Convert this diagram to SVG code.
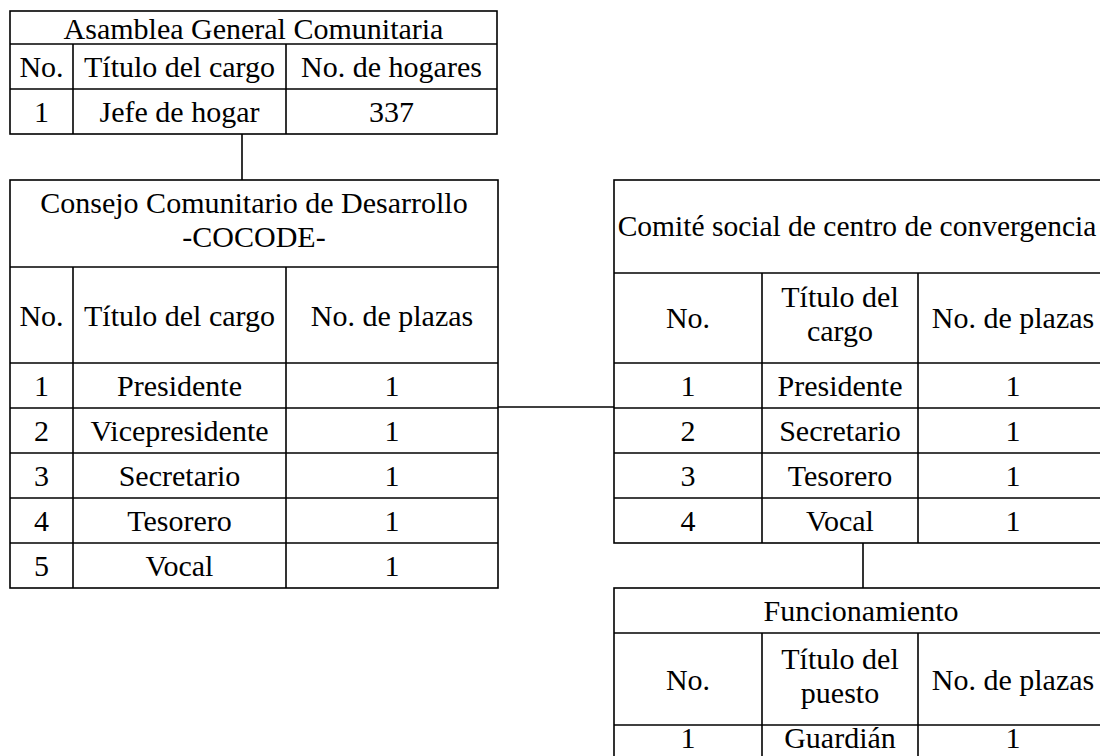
<svg xmlns="http://www.w3.org/2000/svg" width="1100" height="756" viewBox="0 0 1100 756">
<style>
  .bg { fill: #ffffff; }
  .box { fill: none; stroke: #000; stroke-width: 1.6; }
  .ln { stroke: #000; stroke-width: 1.6; fill: none; }
  text { font-family: "Liberation Serif", "Times New Roman", serif; font-size: 30px; fill: #000; text-anchor: middle; }
  .wide { font-size: 29.5px; }
</style>
<rect class="bg" x="0" y="0" width="1100" height="756"/>

<g id="asamblea">
  <rect class="box" x="10" y="11" width="487" height="123"/>
  <line class="ln" x1="10" y1="44" x2="497" y2="44"/>
  <line class="ln" x1="10" y1="89" x2="497" y2="89"/>
  <line class="ln" x1="73" y1="44" x2="73" y2="134"/>
  <line class="ln" x1="286" y1="44" x2="286" y2="134"/>
  <text x="253.5" y="38.5">Asamblea General Comunitaria</text>
  <text x="41.5" y="77">No.</text>
  <text x="179.5" y="77">Título del cargo</text>
  <text x="391.5" y="77">No. de hogares</text>
  <text x="41.5" y="122">1</text>
  <text x="179.5" y="122">Jefe de hogar</text>
  <text x="391.5" y="122">337</text>
</g>

<g id="cocode">
  <rect class="box" x="10" y="180" width="488" height="408"/>
  <line class="ln" x1="10" y1="267" x2="498" y2="267"/>
  <line class="ln" x1="10" y1="363" x2="498" y2="363"/>
  <line class="ln" x1="10" y1="408" x2="498" y2="408"/>
  <line class="ln" x1="10" y1="453" x2="498" y2="453"/>
  <line class="ln" x1="10" y1="498" x2="498" y2="498"/>
  <line class="ln" x1="10" y1="543" x2="498" y2="543"/>
  <line class="ln" x1="73" y1="267" x2="73" y2="588"/>
  <line class="ln" x1="286" y1="267" x2="286" y2="588"/>
  <text x="254" y="213">Consejo Comunitario de Desarrollo</text>
  <text x="254" y="247">-COCODE-</text>
  <text x="41.5" y="326">No.</text>
  <text x="179.5" y="326">Título del cargo</text>
  <text x="392" y="326">No. de plazas</text>
  <text x="41.5" y="396">1</text><text x="179.5" y="396">Presidente</text><text x="392" y="396">1</text>
  <text x="41.5" y="441">2</text><text x="179.5" y="441">Vicepresidente</text><text x="392" y="441">1</text>
  <text x="41.5" y="486">3</text><text x="179.5" y="486">Secretario</text><text x="392" y="486">1</text>
  <text x="41.5" y="531">4</text><text x="179.5" y="531">Tesorero</text><text x="392" y="531">1</text>
  <text x="41.5" y="576">5</text><text x="179.5" y="576">Vocal</text><text x="392" y="576">1</text>
</g>

<g id="comite">
  <rect class="box" x="614" y="180" width="494" height="363"/>
  <line class="ln" x1="614" y1="273" x2="1108" y2="273"/>
  <line class="ln" x1="614" y1="363" x2="1108" y2="363"/>
  <line class="ln" x1="614" y1="408" x2="1108" y2="408"/>
  <line class="ln" x1="614" y1="453" x2="1108" y2="453"/>
  <line class="ln" x1="614" y1="498" x2="1108" y2="498"/>
  <line class="ln" x1="762" y1="273" x2="762" y2="543"/>
  <line class="ln" x1="918" y1="273" x2="918" y2="543"/>
  <text class="wide" x="857" y="236">Comité social de centro de convergencia</text>
  <text x="688" y="328">No.</text>
  <text x="840" y="307">Título del</text>
  <text x="840" y="341">cargo</text>
  <text x="1013" y="328">No. de plazas</text>
  <text x="688" y="396">1</text><text x="840" y="396">Presidente</text><text x="1013" y="396">1</text>
  <text x="688" y="441">2</text><text x="840" y="441">Secretario</text><text x="1013" y="441">1</text>
  <text x="688" y="486">3</text><text x="840" y="486">Tesorero</text><text x="1013" y="486">1</text>
  <text x="688" y="531">4</text><text x="840" y="531">Vocal</text><text x="1013" y="531">1</text>
</g>

<g id="funcionamiento">
  <rect class="box" x="614" y="588" width="494" height="190"/>
  <line class="ln" x1="614" y1="633" x2="1108" y2="633"/>
  <line class="ln" x1="614" y1="725" x2="1108" y2="725"/>
  <line class="ln" x1="762" y1="633" x2="762" y2="778"/>
  <line class="ln" x1="918" y1="633" x2="918" y2="778"/>
  <text x="861" y="621">Funcionamiento</text>
  <text x="688" y="690">No.</text>
  <text x="840" y="669">Título del</text>
  <text x="840" y="703">puesto</text>
  <text x="1013" y="690">No. de plazas</text>
  <text x="688" y="748">1</text><text x="840" y="748">Guardián</text><text x="1013" y="748">1</text>
</g>

<g id="connectors">
  <line class="ln" x1="242" y1="134" x2="242" y2="180"/>
  <line class="ln" x1="498" y1="407" x2="614" y2="407"/>
  <line class="ln" x1="863" y1="543" x2="863" y2="588"/>
</g>
</svg>
